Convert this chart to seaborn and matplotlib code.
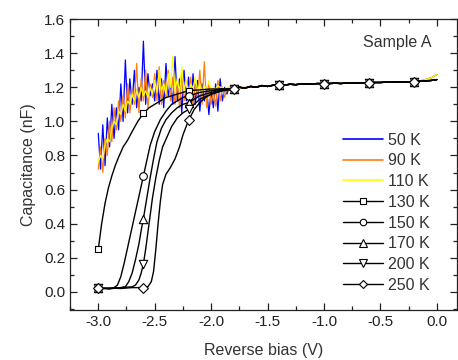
import numpy as np
import pandas as pd
import matplotlib
matplotlib.use("Agg")
import matplotlib.pyplot as plt
from matplotlib.lines import Line2D
from matplotlib.ticker import MultipleLocator, FormatStrFormatter
import seaborn as sns

# ---------------- data ----------------
# noisy low-temperature curves: bias -3.00 ... -1.84 V in 0.02 V steps
NOISY_V = [-3.00, -2.98, -2.96, -2.94, -2.92, -2.90, -2.88, -2.86, -2.84, -2.82,
           -2.80, -2.78, -2.76, -2.74, -2.72, -2.70, -2.68, -2.66, -2.64, -2.62,
           -2.60, -2.58, -2.56, -2.54, -2.52, -2.50, -2.48, -2.46, -2.44, -2.42,
           -2.40, -2.38, -2.36, -2.34, -2.32, -2.30, -2.28, -2.26, -2.24, -2.22,
           -2.20, -2.18, -2.16, -2.14, -2.12, -2.10, -2.08, -2.06, -2.04, -2.02,
           -2.00, -1.98, -1.96, -1.94, -1.92, -1.90, -1.88, -1.86, -1.84]
C_50K = [0.93, 0.72, 0.98, 0.74, 1.02, 0.85, 1.10, 0.90, 1.08, 0.95,
         1.22, 1.00, 1.36, 1.05, 1.25, 1.10, 1.30, 1.08, 1.20, 1.12,
         1.47, 1.10, 1.28, 1.15, 1.22, 1.12, 1.30, 1.10, 1.25, 1.08,
         1.34, 1.15, 1.22, 1.10, 1.38, 1.12, 1.25, 1.05, 1.30, 1.12,
         1.26, 1.08, 1.28, 1.10, 1.24, 1.06, 1.22, 1.12, 1.20, 1.04,
         1.18, 1.08, 1.22, 1.06, 1.25, 1.12, 1.20, 1.16, 1.20]
C_90K = [0.72, 0.85, 0.70, 0.90, 0.80, 1.00, 0.88, 1.08, 0.95, 1.12,
         1.00, 1.15, 1.02, 1.22, 1.05, 1.18, 1.10, 1.34, 1.05, 1.25,
         1.12, 1.30, 1.08, 1.22, 1.14, 1.28, 1.12, 1.32, 1.10, 1.24,
         1.14, 1.30, 1.12, 1.26, 1.10, 1.22, 1.08, 1.28, 1.12, 1.20,
         1.10, 1.26, 1.08, 1.22, 1.14, 1.30, 1.10, 1.35, 1.08, 1.22,
         1.10, 1.18, 1.09, 1.24, 1.12, 1.20, 1.14, 1.19, 1.18]
C_110K = [0.76, 0.80, 0.78, 0.86, 0.90, 0.88, 0.96, 1.00, 0.98, 1.06,
          1.04, 1.10, 1.06, 1.12, 1.10, 1.16, 1.12, 1.18, 1.14, 1.20,
          1.15, 1.18, 1.14, 1.20, 1.16, 1.24, 1.17, 1.30, 1.18, 1.22,
          1.16, 1.28, 1.20, 1.38, 1.18, 1.25, 1.17, 1.32, 1.18, 1.24,
          1.16, 1.22, 1.19, 1.26, 1.18, 1.22, 1.17, 1.21, 1.19, 1.24,
          1.18, 1.20, 1.19, 1.21, 1.20, 1.20, 1.19, 1.20, 1.20]

# common flat tail (-1.80 ... 0.00 V)
TAIL_V = [-1.80, -1.75, -1.70, -1.65, -1.60, -1.55, -1.50, -1.45, -1.40, -1.35,
          -1.30, -1.25, -1.20, -1.15, -1.10, -1.05, -1.00, -0.95, -0.90, -0.85,
          -0.80, -0.75, -0.70, -0.65, -0.60, -0.55, -0.50, -0.45, -0.40, -0.35,
          -0.30, -0.25, -0.20, -0.15, -0.10, -0.05, 0.00]
TAIL_C = [1.190, 1.200, 1.195, 1.205, 1.200, 1.210, 1.205, 1.212, 1.215, 1.212,
          1.218, 1.215, 1.220, 1.218, 1.220, 1.222, 1.220, 1.222, 1.224, 1.222,
          1.225, 1.224, 1.226, 1.226, 1.227, 1.228, 1.228, 1.230, 1.230, 1.231,
          1.232, 1.232, 1.233, 1.235, 1.237, 1.240, 1.245]
TAIL_C_NOISY = [1.195, 1.200, 1.198, 1.205, 1.203, 1.210, 1.207, 1.212, 1.215, 1.214,
                1.218, 1.216, 1.220, 1.219, 1.221, 1.222, 1.221, 1.223, 1.224, 1.223,
                1.225, 1.225, 1.226, 1.227, 1.228, 1.228, 1.229, 1.230, 1.231, 1.232,
                1.232, 1.233, 1.234, 1.237, 1.245, 1.255, 1.275]

# high-temperature curves (heads, -3.0 ... -1.9 V)
V_130K = [-3.00, -2.97, -2.94, -2.91, -2.88, -2.85, -2.82, -2.78, -2.74, -2.70, -2.65,
          -2.60, -2.55, -2.50, -2.45, -2.40, -2.35, -2.30, -2.25, -2.20, -2.10, -2.00, -1.90]
C_130K = [0.25, 0.40, 0.52, 0.61, 0.68, 0.74, 0.79, 0.85, 0.89, 0.94, 1.00,
          1.047, 1.08, 1.10, 1.12, 1.14, 1.15, 1.16, 1.17, 1.18, 1.185, 1.19, 1.19]
V_150K = [-3.00, -2.95, -2.90, -2.86, -2.83, -2.80, -2.77, -2.74, -2.71, -2.68, -2.65,
          -2.62, -2.60, -2.57, -2.54, -2.50, -2.45, -2.40, -2.35, -2.30, -2.25, -2.20,
          -2.10, -2.00, -1.90]
C_150K = [0.02, 0.022, 0.018, 0.025, 0.04, 0.09, 0.17, 0.26, 0.35, 0.44, 0.53,
          0.62, 0.68, 0.77, 0.86, 0.94, 1.01, 1.06, 1.10, 1.12, 1.14, 1.15,
          1.17, 1.18, 1.19]
V_170K = [-3.00, -2.90, -2.80, -2.76, -2.73, -2.70, -2.67, -2.64, -2.62, -2.60, -2.57,
          -2.54, -2.51, -2.48, -2.44, -2.40, -2.35, -2.30, -2.25, -2.20, -2.10, -2.00, -1.90]
C_170K = [0.02, 0.022, 0.025, 0.03, 0.06, 0.11, 0.19, 0.28, 0.36, 0.43, 0.55,
          0.67, 0.78, 0.88, 0.96, 1.01, 1.05, 1.08, 1.10, 1.11, 1.15, 1.17, 1.185]
V_200K = [-3.00, -2.90, -2.80, -2.70, -2.67, -2.64, -2.62, -2.60, -2.58, -2.55, -2.52,
          -2.49, -2.46, -2.43, -2.39, -2.35, -2.30, -2.25, -2.20, -2.10, -2.00, -1.90]
C_200K = [0.02, 0.018, 0.025, 0.03, 0.04, 0.07, 0.11, 0.165, 0.25, 0.40, 0.55,
          0.67, 0.77, 0.85, 0.91, 0.97, 1.02, 1.05, 1.07, 1.13, 1.16, 1.18]
V_250K = [-3.00, -2.90, -2.80, -2.70, -2.60, -2.56, -2.53, -2.51, -2.49, -2.47, -2.45,
          -2.43, -2.40, -2.36, -2.32, -2.28, -2.25, -2.20, -2.15, -2.10, -2.05, -2.00, -1.90]
C_250K = [0.02, 0.022, 0.02, 0.025, 0.025, 0.03, 0.06, 0.12, 0.25, 0.40, 0.53,
          0.63, 0.69, 0.73, 0.78, 0.85, 0.92, 1.006, 1.07, 1.11, 1.14, 1.16, 1.18]

NOISY_LABELS = ["50 K", "90 K", "110 K"]
SMOOTH_LABELS = ["130 K", "150 K", "170 K", "200 K", "250 K"]
MARKER_BIAS = [-3.0, -2.6, -2.2, -1.8, -1.4, -1.0, -0.6, -0.2]

# ---------------- build tables ----------------
frames = []
for lab, head in zip(NOISY_LABELS, [C_50K, C_90K, C_110K]):
    frames.append(pd.DataFrame({"V": NOISY_V + TAIL_V, "C": head + TAIL_C_NOISY, "T": lab}))
noisy = pd.concat(frames, ignore_index=True)

frames = []
for lab, v, c in zip(SMOOTH_LABELS,
                     [V_130K, V_150K, V_170K, V_200K, V_250K],
                     [C_130K, C_150K, C_170K, C_200K, C_250K]):
    frames.append(pd.DataFrame({"V": v + TAIL_V, "C": c + TAIL_C, "T": lab}))
smooth = pd.concat(frames, ignore_index=True)
mask = np.zeros(len(smooth), dtype=bool)
for b in MARKER_BIAS:
    mask |= np.isclose(smooth["V"].values, b)
marks = smooth[mask]

# ---------------- style ----------------
sns.set_style("ticks")
plt.rcParams["font.family"] = ["Liberation Sans", "DejaVu Sans"]
plt.rcParams["axes.unicode_minus"] = False

noisy_colors = {"50 K": "#0000ff", "90 K": "#ff7f0e", "110 K": "#ffff00"}
marker_map = {"130 K": "s", "150 K": "o", "170 K": "^", "200 K": "v", "250 K": "D"}
marker_size = {"130 K": 5.0, "150 K": 5.5, "170 K": 6.0, "200 K": 6.0, "250 K": 5.0}

fig = plt.figure(figsize=(4.58, 3.60), dpi=100)
ax = fig.add_axes([0.153, 0.139, 0.845, 0.808])

for lab in NOISY_LABELS:
    d = noisy[noisy["T"] == lab]
    sns.lineplot(data=d, x="V", y="C", ax=ax, color=noisy_colors[lab], lw=0.9,
                 estimator=None, sort=False, legend=False)

for lab in SMOOTH_LABELS:
    d = smooth[smooth["T"] == lab]
    sns.lineplot(data=d, x="V", y="C", ax=ax, color="black", lw=1.0,
                 estimator=None, sort=False, legend=False)

for lab in SMOOTH_LABELS:
    d = marks[marks["T"] == lab]
    ms = marker_size[lab]
    sns.scatterplot(data=d, x="V", y="C", ax=ax, marker=marker_map[lab],
                    s=ms ** 2, facecolor="white", edgecolor="black",
                    linewidth=0.8, legend=False, zorder=5)

ax.set_xlim(-3.25, 0.18)
ax.set_ylim(-0.106, 1.6)
ax.xaxis.set_major_locator(MultipleLocator(0.5))
ax.xaxis.set_minor_locator(MultipleLocator(0.25))
ax.yaxis.set_major_locator(MultipleLocator(0.2))
ax.yaxis.set_minor_locator(MultipleLocator(0.1))
ax.xaxis.set_major_formatter(FormatStrFormatter("%.1f"))
ax.yaxis.set_major_formatter(FormatStrFormatter("%.1f"))
ax.tick_params(which="both", direction="in", top=True, right=True,
               labelsize=11, width=0.9, colors="#222222")
ax.tick_params(which="major", length=5)
ax.tick_params(which="minor", length=3)
for s in ax.spines.values():
    s.set_visible(True)
    s.set_linewidth(0.9)
    s.set_color("#222222")

ax.set_xlabel("Reverse bias (V)", fontsize=11.5, color="#333333", labelpad=10)
ax.set_ylabel("Capacitance (nF)", fontsize=11.5, color="#333333", labelpad=6)

ax.text(0.845, 0.921, "Sample A", transform=ax.transAxes, ha="center", va="center",
        fontsize=11.5, color="#333333")

handles = []
for lab in NOISY_LABELS:
    handles.append(Line2D([], [], color=noisy_colors[lab], lw=1.2, label=lab))
for lab in SMOOTH_LABELS:
    handles.append(Line2D([], [], color="black", lw=1.0, marker=marker_map[lab],
                          markersize=marker_size[lab] - 0.8, markerfacecolor="white",
                          markeredgecolor="black", markeredgewidth=0.8, label=lab))
leg = ax.legend(handles=handles, loc="upper left", bbox_to_anchor=(0.705, 0.61),
                frameon=False, fontsize=11.5, handlelength=2.5, handletextpad=0.3,
                labelspacing=0.36, borderpad=0, borderaxespad=0, numpoints=1)
for t in leg.get_texts():
    t.set_color("#333333")

fig.savefig("out.png", dpi=100)
